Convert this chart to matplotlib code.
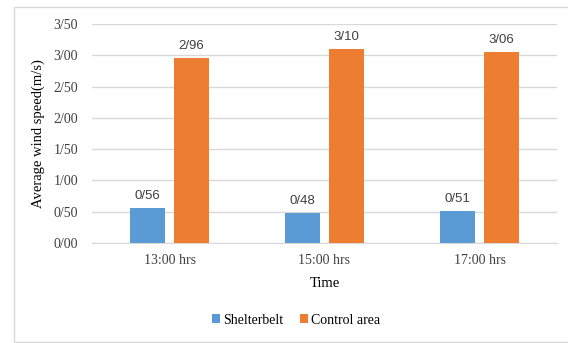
import numpy as np
import matplotlib.pyplot as plt
from matplotlib.patches import Rectangle

times = ['13:00 hrs', '15:00 hrs', '17:00 hrs']
shelterbelt = [0.56, 0.48, 0.51]
control = [2.96, 3.10, 3.06]
yticks = [0.0, 0.5, 1.0, 1.5, 2.0, 2.5, 3.0, 3.5]


def slash_fmt(v):
    return f'{v:.2f}'.replace('.', '/')


serif = 'Liberation Serif'
sans = 'Liberation Sans'

fig = plt.figure(figsize=(5.68, 3.43), dpi=100)
fig.patches.append(Rectangle((14 / 568, 1 / 343), 560 / 568, 335 / 343,
                             transform=fig.transFigure, fill=False,
                             edgecolor='#d9d9d9', linewidth=1))
ax = fig.add_axes([92 / 568, 1 - 243 / 343, 465 / 568, 219 / 343])

x = np.arange(len(times))
w = 0.225
off = 0.143
b1 = ax.bar(x - off, shelterbelt, w, color='#5b9bd5', label='Shelterbelt', zorder=3)
b2 = ax.bar(x + off, control, w, color='#ed7d31', label='Control area', zorder=3)

for bars, vals in ((b1, shelterbelt), (b2, control)):
    for r, v in zip(bars, vals):
        ax.text(r.get_x() + r.get_width() / 2, v + 0.09, slash_fmt(v),
                ha='center', va='bottom', fontsize=9.5, family=sans, color='#404040')

ax.set_xlim(-0.5, 2.5)
ax.set_ylim(0, 3.5)
ax.set_yticks(yticks)
ax.set_yticklabels([slash_fmt(t) for t in yticks], family=serif, fontsize=10, color='#404040')
ax.set_xticks(x)
ax.set_xticklabels(times, family=serif, fontsize=10, color='#404040')
ax.tick_params(length=0, pad=8)
ax.tick_params(axis='y', pad=10)
ax.grid(axis='y', color='#d9d9d9', linewidth=1, zorder=0)
for s in ['top', 'right', 'left']:
    ax.spines[s].set_visible(False)
ax.spines['bottom'].set_color('#d9d9d9')

ax.set_xlabel('Time', family=serif, fontsize=10.5, labelpad=7)
ax.set_ylabel('Average wind speed(m/s)', family=serif, fontsize=10.5, labelpad=6)

leg = fig.legend(loc='center', bbox_to_anchor=(296 / 568, 1 - 320 / 343), ncol=2,
                 frameon=False, prop={'family': serif, 'size': 10},
                 handlelength=0.6, handleheight=0.6, handletextpad=0.2, columnspacing=1.2)

fig.savefig('out.png', dpi=100)
